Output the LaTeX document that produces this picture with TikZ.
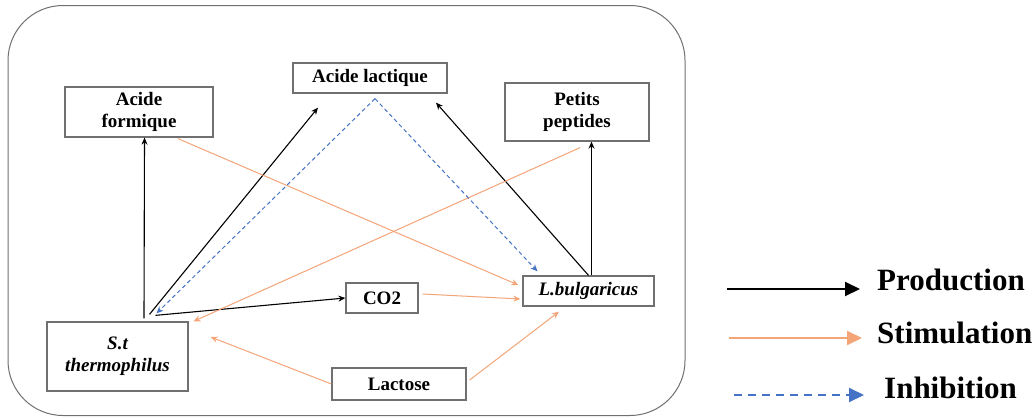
\documentclass[tikz,border=0pt]{standalone}
\usepackage{fontspec}
\setmainfont{Liberation Serif}
\usetikzlibrary{arrows.meta,calc}
\definecolor{stim}{RGB}{243,165,120}
\definecolor{inhib}{RGB}{68,114,196}
\definecolor{boxgray}{RGB}{112,112,112}
\begin{document}
\begin{tikzpicture}[x=1pt,y=-1pt,
  box/.style={draw=boxgray, line width=1.3pt, fill=white, align=center, inner sep=0pt,
    font=\fontsize{19}{22}\selectfont\bfseries},
  prod/.style={-{Stealth[length=7pt,width=6pt]}, line width=1.1pt, black},
  stimarr/.style={-{Stealth[length=7pt,width=6pt]}, line width=1pt, stim},
  inh/.style={-{Stealth[length=7pt,width=6pt]}, line width=1pt, inhib, dash pattern=on 4pt off 3pt},
  legprod/.style={-{Triangle[length=15pt,width=14pt]}, line width=2pt, black},
  legstim/.style={-{Triangle[length=15pt,width=14pt]}, line width=2pt, stim},
  leginh/.style={-{Triangle[length=15pt,width=14pt]}, line width=2pt, inhib, dash pattern=on 8pt off 6pt},
  legtext/.style={anchor=base west, inner sep=0pt, font=\fontsize{31}{36}\selectfont\bfseries}
]
\useasboundingbox (0,0) rectangle (1034,418);
\fill[white] (0,0) rectangle (1034,418);

% outer frame
\node[draw=boxgray, line width=1pt, rounded corners=55pt, minimum width=677pt, minimum height=410pt, inner sep=0pt] (frame) at (346.5,210.5) {};

% nodes
\node[box, minimum width=148pt, minimum height=50pt] (af) at (139,112) {Acide\\formique};
\node[box, minimum width=154pt, minimum height=30pt] (al) at (370,78) {Acide lactique};
\node[box, minimum width=144pt, minimum height=58pt] (pp) at (577,112) {Petits\\peptides};
\node[box, minimum width=141pt, minimum height=69pt] (st) at (117.5,356.5) {\itshape S.t\\\itshape thermophilus};
\node[box, minimum width=72pt, minimum height=30pt] (co2) at (382,298) {CO2};
\node[box, minimum width=131pt, minimum height=30pt] (lb) at (588.5,291) {\itshape L.bulgaricus};
\node[box, minimum width=134pt, minimum height=32pt] (lac) at (399,384) {Lactose};

% production
\draw[prod] ($(st.north)+(26.5,-3)$) -- ($(af.south)+(5.5,0)$);
\draw[prod] ($(st.north)+(32,-7)$) -- ($(al.south)+(-52,14)$);
\draw[prod] ($(st.north)+(38,-6)$) -- (co2.west);
\draw[prod] (lb.north) -- ($(al.south)+(66,9)$);
\draw[prod] ($(lb.north)+(3,0)$) -- ($(pp.south)+(14.5,0)$);

% stimulation
\draw[stimarr] ($(af.south)+(39,1)$) -- ($(lb.west)+(-4,-6)$);
\draw[stimarr] ($(pp.south)+(3,6)$) -- ($(st.north)+(76,0)$);
\draw[stimarr] ($(co2.east)+(4,-4)$) -- ($(lb.west)+(-2,8)$);
\draw[stimarr] (lac.west) -- ($(st.east)+(22,-19.5)$);
\draw[stimarr] ($(lac.east)+(3,-4)$) -- ($(lb.south)+(-29.5,5)$);

% inhibition
\draw[inh] ($(al.south)+(5,5)$) -- ($(st.north)+(39,-8)$);
\draw[inh] ($(al.south)+(5,5)$) -- ($(lb.north)+(-51,-4)$);

% legend
\node[legtext] (lp) at (877,290) {Production};
\node[legtext] (ls) at (877,343) {Stimulation};
\node[legtext] (li) at (884,398) {Inhibition};
\coordinate (lp0) at (727,289);
\coordinate (lp1) at (860,289);
\coordinate (ls0) at (729,338);
\coordinate (ls1) at (862,338);
\coordinate (li0) at (734,395);
\coordinate (li1) at (864,395);
\draw[legprod] (lp0) -- (lp1);
\draw[legstim] (ls0) -- (ls1);
\draw[leginh] (li0) -- (li1);
\end{tikzpicture}
\end{document}
